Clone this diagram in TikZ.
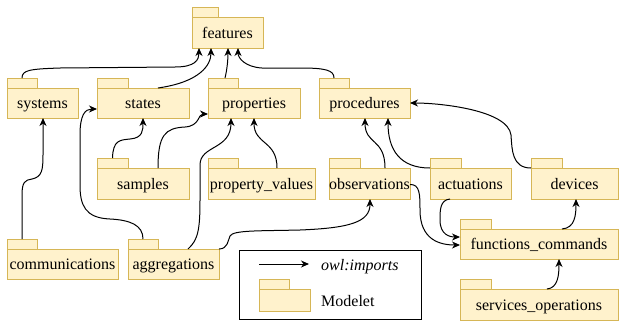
\documentclass[tikz,border=0pt]{standalone}
\usepackage{fontspec}
\setmainfont{Liberation Serif}
\usetikzlibrary{arrows.meta,calc}
\definecolor{fold}{HTML}{FFF2CC}
\definecolor{foldline}{HTML}{D6B656}
\begin{document}
\begin{tikzpicture}[x=1pt,y=-1pt,
  tabbox/.style={draw=foldline,fill=fold,line width=1pt,inner sep=0pt,outer sep=0pt},
  folderbox/.style={draw=foldline,fill=fold,line width=1pt,inner sep=0pt,outer sep=0pt,text height=13pt,text depth=2pt,font=\fontsize{16}{19}\selectfont},
  imp/.style={draw=black,line width=1pt,-{Stealth[length=8pt,width=7pt,inset=2.5pt]}},
  lbl/.style={inner sep=0pt,anchor=west,text height=13pt,text depth=2pt,font=\fontsize{16}{19}\selectfont}]
\useasboundingbox (0,0) rectangle (620,322);
\newcommand\mfolder[7]{%
  \node[tabbox,minimum width=#6pt,minimum height=10pt,anchor=north west] (#1T) at (#2,#3) {};
  \node[folderbox,minimum width={(#4-#2)*1pt},minimum height={(#5-#3-10)*1pt},anchor=south west] (#1) at (#2,#5) {#7};
}
% folders
\mfolder{features}{192}{7}{263}{48}{26}{features}
\mfolder{systems}{7}{78}{78}{118}{30}{systems}
\mfolder{states}{97}{78}{189}{118}{31}{states}
\mfolder{properties}{208}{78}{300}{118}{30}{properties}
\mfolder{procedures}{319}{78}{410}{118}{30}{procedures}
\mfolder{samples}{97}{158}{189}{199}{31}{samples}
\mfolder{propvals}{208}{158}{315}{199}{30}{property\_values}
\mfolder{observations}{329}{158}{410}{199}{31}{observations}
\mfolder{actuations}{430}{158}{511}{199}{31}{actuations}
\mfolder{devices}{531}{158}{618}{199}{31}{devices}
\mfolder{communications}{7}{239}{118}{279}{30}{communications}
\mfolder{aggregations}{128}{239}{219}{279}{30}{aggregations}
\mfolder{functions}{460}{219}{618}{259}{31}{functions\_commands}
\mfolder{services}{460}{279}{618}{320}{31}{services\_operations}
% connectors
\draw[imp] (systemsT.north) .. controls (22,70) and (30,69) .. (60,68) -- (175,67) .. controls (195,67) and (199,60) .. ([xshift=7pt]features.south west);
\draw[imp] ([xshift=15pt]states.north) .. controls (200,82) and (211,65) .. ([xshift=19pt]features.south west);
\draw[imp] ([xshift=2pt]propertiesT.north) .. controls (227,70) and (228,60) .. ([xshift=36pt]features.south west);
\draw[imp] (proceduresT.north) .. controls (334,70) and (325,68) .. (300,68) -- (262,68) .. controls (245,67) and (238,58) .. ([xshift=46pt]features.south west);
\draw[imp] (communicationsT.north) -- (22,195) .. controls (22,182) and (25,180) .. (32,179) .. controls (42,177) and (43,170) .. (43,155) -- ([xshift=36pt]systems.south west);
\draw[imp] (aggregationsT.north) .. controls (143,225) and (130,220) .. (110,219) .. controls (85,218) and (80,205) .. (80,185) -- (80,135) .. controls (80,115) and (85,109) .. ([yshift=-6pt]states.west);
\draw[imp] (samplesT.north) .. controls (113,140) and (120,140) .. (130,139) .. controls (143,138) and (143,130) .. (states.south);
\draw[imp] ([xshift=15pt]samples.north) .. controls (158,135) and (165,128) .. (185,127) .. controls (200,126) and (198,114) .. ([yshift=-11pt]properties.west);
\draw[imp] ([xshift=-31pt]aggregations.north east) .. controls (198,240) and (200,230) .. (200,200) -- (200,165) .. controls (200,145) and (231,150) .. ([xshift=23pt]properties.south west);
\draw[imp] ([xshift=69pt]propvals.north west) .. controls (277,140) and (254,145) .. ([xshift=46pt]properties.south west);
\draw[imp] ([xshift=56pt]observations.north west) .. controls (385,138) and (365,145) .. ([xshift=46pt]procedures.south west);
\draw[imp] (actuations.north west) .. controls (400,168) and (388,150) .. ([xshift=69pt]procedures.south west);
\draw[imp] (devices.north west) .. controls (512,168) and (512,150) .. (511,135) .. controls (508,110) and (440,103) .. (procedures.east);
\draw[imp] ([yshift=-1pt]observations.east) .. controls (420,184) and (420,195) .. (420,210) .. controls (420,240) and (440,245) .. ([yshift=-1pt]functions.west);
\draw[imp] ([xshift=20pt]actuations.south west) .. controls (440,200) and (440,210) .. (440,220) .. controls (440,235) and (450,237) .. ([yshift=7pt]functions.west);
\draw[imp] (aggregations.north east) .. controls (228,249) and (228,240) .. (230,236) .. controls (233,230) and (260,231) .. (300,230) .. controls (350,228) and (370,222) .. ([xshift=41pt]observations.south west);
\draw[imp] ([xshift=102pt]functions.north west) .. controls (575,228) and (576,215) .. ([xshift=45pt]devices.south west);
\draw[imp] ([xshift=87pt]services.north west) .. controls (558,288) and (559,275) .. ([xshift=99pt]functions.south west);
% legend
\node[draw=black,line width=1pt,minimum width=182pt,minimum height=69pt,inner sep=0pt,anchor=north west] (legend) at (239,250) {};
\coordinate (la) at (259,264);
\coordinate (lb) at (309,264);
\draw[imp] (la) -- (lb);
\node[lbl] (ltext) at (321,265) {\itshape owl:imports};
\mfolder{legfold}{259}{279}{310}{311}{30}{}
\node[lbl] (mtext) at (321,301) {Modelet};
\end{tikzpicture}
\end{document}
